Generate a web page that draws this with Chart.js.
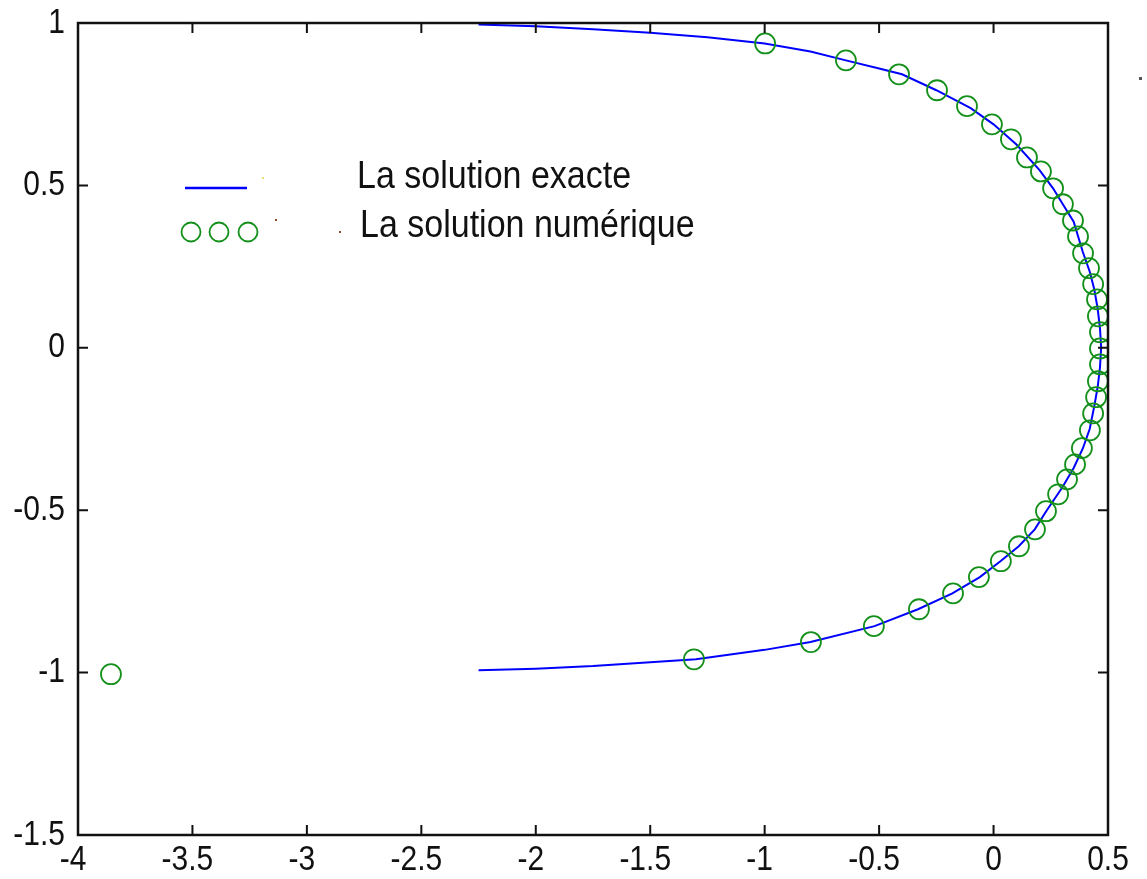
<!DOCTYPE html>
<html>
<head>
<meta charset="utf-8">
<script src="https://cdn.jsdelivr.net/npm/chart.js@4"></script>
<style>
    html, body { margin: 0; padding: 0; background: #fff; }
    #wrap { width: 1147px; height: 879px; }
</style>
</head>
<body>
<div id="wrap"><canvas id="chart"></canvas></div>
<script>
// Exact solution (blue line)
const exactX = [-2.25, -2.0, -1.75, -1.5, -1.25, -1.0, -0.8, -0.645, -0.5, -0.4, -0.25, -0.1, 0.0, 0.1, 0.2, 0.26, 0.3, 0.35, 0.39, 0.42, 0.44, 0.455, 0.465, 0.47,
    0.465, 0.455, 0.44, 0.42, 0.39, 0.35, 0.3, 0.23, 0.18, 0.11, 0.03, -0.06, -0.18, -0.33, -0.52, -0.8, -1.0, -1.3, -1.5, -1.75, -2.0, -2.25];
const exactY = [0.995, 0.99, 0.981, 0.97, 0.956, 0.937, 0.912, 0.885, 0.86, 0.842, 0.793, 0.738, 0.688, 0.626, 0.548, 0.491, 0.445, 0.388, 0.295, 0.235, 0.18, 0.12, 0.06, 0.0,
    -0.06, -0.12, -0.18, -0.25, -0.31, -0.37, -0.43, -0.503, -0.559, -0.611, -0.657, -0.706, -0.756, -0.805, -0.857, -0.906, -0.93, -0.959, -0.968, -0.98, -0.988, -0.993];

// Numerical solution (green circles)
const numX = [-3.856, -1.309, -0.798, -0.523, -0.326, -0.177, -0.064, 0.032, 0.111, 0.181, 0.229, 0.282, 0.321, 0.356, 0.386, 0.421, 0.435, 0.448, 0.456, 0.465,
    0.465, 0.465, 0.456, 0.452, 0.435, 0.417, 0.391, 0.369, 0.347, 0.303, 0.26, 0.207, 0.146, 0.076, -0.007, -0.116, -0.247, -0.413, -0.645, -0.998];
const numY = [-1.005, -0.959, -0.906, -0.857, -0.805, -0.756, -0.706, -0.657, -0.611, -0.559, -0.503, -0.451, -0.405, -0.359, -0.309, -0.254, -0.202, -0.152, -0.103, -0.051,
    -0.002, 0.048, 0.097, 0.149, 0.196, 0.245, 0.291, 0.343, 0.392, 0.442, 0.491, 0.543, 0.586, 0.642, 0.688, 0.744, 0.793, 0.842, 0.885, 0.937];

const seriesNames = ['La solution exacte', 'La solution numérique'];
const xRange = [-4, 0.5];
const yRange = [-1.5, 1];

const FONT = '"Liberation Sans", Arial, sans-serif';
const BLUE = '#0000ff';
const GREEN = '#13901a';
const STRETCH = 1.15; // the picture's text is a little taller than wide

const toPoints = (xs, ys) => xs.map((x, i) => ({ x: x, y: ys[i] }));
const fmt = v => String(+v.toFixed(2));

function tallText(ctx, text, x, y, size, align) {
    ctx.save();
    ctx.font = size + 'px ' + FONT;
    ctx.textAlign = align;
    ctx.textBaseline = 'middle';
    ctx.translate(x, y);
    ctx.scale(1, STRETCH);
    ctx.fillText(text, 0, 0);
    ctx.restore();
}

// Box frame with inward ticks on all four sides, tick labels and the legend
const framePlugin = {
    id: 'matlabFrame',
    afterDraw(chart) {
        const ctx = chart.ctx;
        const a = chart.chartArea;
        const sx = chart.scales.x;
        const sy = chart.scales.y;
        const tick = 10;
        ctx.save();
        ctx.strokeStyle = '#111';
        ctx.lineWidth = 2.5;
        ctx.strokeRect(a.left, a.top, a.right - a.left, a.bottom - a.top);
        ctx.lineWidth = 2;
        ctx.beginPath();
        sx.ticks.forEach(t => {
            const px = sx.getPixelForValue(t.value);
            if (px <= a.left + 1 || px >= a.right - 1) return;
            ctx.moveTo(px, a.bottom); ctx.lineTo(px, a.bottom - tick);
            ctx.moveTo(px, a.top); ctx.lineTo(px, a.top + tick);
        });
        sy.ticks.forEach(t => {
            const py = sy.getPixelForValue(t.value);
            if (py <= a.top + 1 || py >= a.bottom - 1) return;
            ctx.moveTo(a.left, py); ctx.lineTo(a.left + tick, py);
            ctx.moveTo(a.right, py); ctx.lineTo(a.right - tick, py);
        });
        ctx.stroke();

        // tick labels
        ctx.fillStyle = '#111';
        sx.ticks.forEach(t => {
            const px = sx.getPixelForValue(t.value) - (t.value < 0 ? 5 : 0);
            tallText(ctx, fmt(t.value), px, a.bottom + 25, 30, 'center');
        });
        sy.ticks.forEach(t => {
            const py = sy.getPixelForValue(t.value);
            tallText(ctx, fmt(t.value), a.left - 13, py, 30, 'right');
        });

        // legend
        ctx.strokeStyle = BLUE;
        ctx.lineWidth = 2.5;
        ctx.beginPath();
        ctx.moveTo(185, 188); ctx.lineTo(247, 188);
        ctx.stroke();
        ctx.strokeStyle = GREEN;
        ctx.lineWidth = 1.8;
        [191, 219, 248].forEach(cx => {
            ctx.beginPath();
            ctx.arc(cx, 232, 9.5, 0, Math.PI * 2);
            ctx.stroke();
        });
        ctx.fillStyle = '#111';
        tallText(ctx, seriesNames[0], 357, 177, 34, 'left');
        tallText(ctx, seriesNames[1], 360, 226, 34, 'left');

        // stray specks in the original bitmap
        ctx.fillStyle = '#e8e070'; ctx.fillRect(262, 177, 2, 2);
        ctx.fillStyle = '#8a4a2a'; ctx.fillRect(275, 219, 2, 2); ctx.fillRect(339, 231, 2, 2);
        ctx.fillStyle = '#555'; ctx.fillRect(1139, 77, 3, 3);
        ctx.restore();
    }
};

new Chart(document.getElementById('chart'), {
    type: 'scatter',
    data: {
        datasets: [{
            label: seriesNames[0],
            data: toPoints(exactX, exactY),
            showLine: true,
            borderColor: BLUE,
            borderWidth: 2,
            pointRadius: 0,
            tension: 0,
            order: 2,
        }, {
            label: seriesNames[1],
            data: toPoints(numX, numY),
            showLine: false,
            pointRadius: 10,
            pointStyle: 'circle',
            borderColor: GREEN,
            backgroundColor: 'rgba(0,0,0,0)',
            pointBorderWidth: 1.8,
            order: 1,
        }],
    },
    options: {
        responsive: true,
        maintainAspectRatio: false,
        animation: false,
        layout: { padding: { top: 23, right: 39, left: 0, bottom: 0 } },
        plugins: {
            legend: { display: false },
            tooltip: { enabled: false },
        },
        scales: {
            x: {
                type: 'linear',
                min: xRange[0],
                max: xRange[1],
                grid: { display: false, drawTicks: false },
                border: { display: false },
                ticks: { stepSize: 0.5, display: false },
                afterFit: s => { s.height = 44; s.paddingLeft = 0; s.paddingRight = 0; },
            },
            y: {
                type: 'linear',
                min: yRange[0],
                max: yRange[1],
                grid: { display: false, drawTicks: false },
                border: { display: false },
                ticks: { stepSize: 0.5, display: false },
                afterFit: s => { s.width = 78; s.paddingTop = 0; s.paddingBottom = 0; },
            },
        },
    },
    plugins: [framePlugin],
});
</script>
</body>
</html>
